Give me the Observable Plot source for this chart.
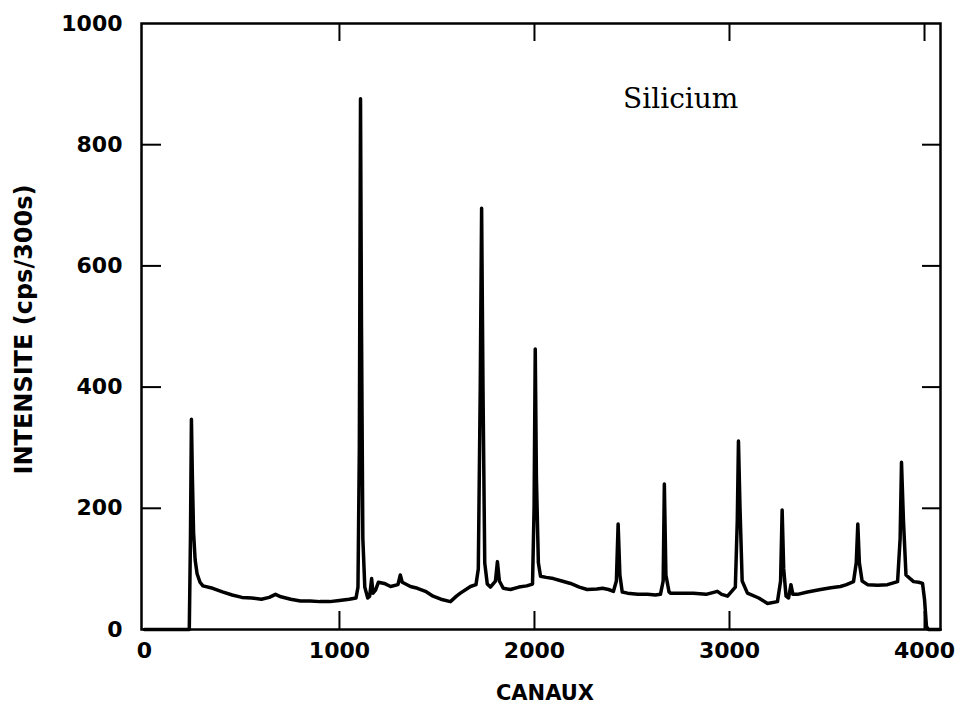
<!DOCTYPE html>
<html>
<head>
<meta charset="utf-8">
<script src="https://cdn.jsdelivr.net/npm/d3@7"></script>
<script src="https://cdn.jsdelivr.net/npm/@observablehq/plot@0.6"></script>
<style>
  html, body { margin: 0; padding: 0; background: #fff; }
  #chart svg { display: block; }
</style>
</head>
<body>
<div id="chart"></div>
<script>
// Channel (CANAUX) and intensity (cps/300s)
const channels = [
  0, 230, 236, 241, 246, 252, 260, 270, 285, 300, 350, 400, 450, 500, 550, 600, 640, 672, 700, 750,
  800, 850, 900, 950, 1000, 1050, 1085, 1095, 1102, 1108, 1113, 1120, 1130, 1145, 1155, 1165, 1172, 1185, 1200, 1230,
  1262, 1300, 1312, 1322, 1364, 1400, 1441, 1480, 1520, 1569, 1600, 1620, 1672, 1700, 1712, 1722, 1729, 1736, 1745, 1758,
  1774, 1800, 1810, 1820, 1840, 1877, 1920, 1960, 1990, 1998, 2004, 2010, 2020, 2031, 2060, 2097, 2140, 2185, 2230, 2270,
  2320, 2349, 2380, 2405, 2420, 2429, 2438, 2450, 2477, 2530, 2580, 2620, 2646, 2660, 2666, 2674, 2690, 2697, 2760, 2815,
  2880, 2938, 2960, 2990, 3030, 3040, 3046, 3054, 3065, 3092, 3150, 3195, 3246, 3262, 3270, 3278, 3290, 3303, 3315, 3325,
  3349, 3400, 3467, 3520, 3569, 3600, 3636, 3650, 3658, 3666, 3680, 3708, 3760, 3810, 3862, 3875, 3882, 3892, 3905, 3944,
  3970, 3990, 4000, 4010, 4020, 4080
];
const intensities = [
  0, 0, 150, 347, 250, 160, 115, 92, 78, 72, 68, 62, 57, 53, 52, 50, 53, 58, 54, 50,
  47, 47, 46, 46, 48, 50, 52, 70, 300, 876, 500, 150, 70, 52, 55, 84, 60, 65, 78, 76,
  71, 74, 90, 78, 71, 68, 63, 55, 50, 46, 55, 60, 71, 74, 100, 400, 695, 400, 110, 75,
  70, 80, 112, 80, 68, 66, 70, 72, 75, 200, 463, 250, 110, 88, 86, 84, 80, 76, 70, 66,
  67, 68, 66, 63, 80, 174, 90, 62, 60, 58, 58, 57, 58, 80, 240, 90, 62, 60, 60, 60,
  58, 63, 58, 55, 70, 180, 311, 200, 80, 60, 52, 43, 46, 80, 197, 100, 55, 52, 74, 58,
  58, 62, 66, 69, 71, 74, 79, 110, 174, 110, 80, 74, 73, 74, 79, 150, 276, 180, 90, 79,
  78, 76, 50, 5, 0, 0
];
const xTickValues = [0, 1000, 2000, 3000, 4000];
const yTickValues = [0, 200, 400, 600, 800, 1000];
const xInnerTicks = [1000, 2000, 3000, 4000];
const yInnerTicks = [200, 400, 600, 800];
const xTitle = "CANAUX";
const yTitle = "INTENSITE (cps/300s)";
const sampleLabel = "Silicium";
const sampleLabelPos = {x: 2750, y: 876};

const data = channels.map((c, i) => ({channel: c, intensity: intensities[i]}));

const W = 960, H = 711;
const mL = 141, mR = 20, mT = 23, mB = 82;
const innerH = H - mT - mB;
const innerW = W - mL - mR;
const sans = "DejaVu Sans, sans-serif";

const plot = Plot.plot({
  width: W,
  height: H,
  marginLeft: mL,
  marginRight: mR,
  marginTop: mT,
  marginBottom: mB,
  style: {background: "#fff", color: "#000", fontFamily: sans},
  x: {domain: [-15, 4082]},
  y: {domain: [0, 1000]},
  marks: [
    Plot.axisX(xTickValues, {tickSize: 0, tickPadding: 13, fontSize: 22, fontWeight: "bold", fontFamily: sans, label: null, tickFormat: d => String(d)}),
    Plot.axisY(yTickValues, {tickSize: 0, tickPadding: 19, fontSize: 22, fontWeight: "bold", fontFamily: sans, label: null, tickFormat: d => String(d)}),
    // inward ticks
    Plot.tickX(xInnerTicks, {x: d => d, insetTop: innerH - 18, stroke: "#000", strokeWidth: 2}),
    Plot.tickX(xInnerTicks, {x: d => d, insetBottom: innerH - 18, stroke: "#000", strokeWidth: 2}),
    Plot.tickY(yInnerTicks, {y: d => d, insetRight: innerW - 20, stroke: "#000", strokeWidth: 2}),
    Plot.tickY(yInnerTicks, {y: d => d, insetLeft: innerW - 18, stroke: "#000", strokeWidth: 2}),
    Plot.line(data, {x: "channel", y: "intensity", stroke: "#000", strokeWidth: 3.5, strokeLinejoin: "round"}),
    Plot.frame({stroke: "#000", strokeWidth: 2.5}),
    Plot.text([sampleLabel], {x: () => sampleLabelPos.x, y: () => sampleLabelPos.y, text: d => d,
      fontFamily: "DejaVu Serif, serif", fontSize: 28, fill: "#000"}),
    Plot.text([xTitle], {frameAnchor: "bottom", text: d => d, textAnchor: "middle", dx: 4, dy: 70, fontSize: 21, fontWeight: "bold", fontFamily: sans, fill: "#000"}),
    Plot.text([yTitle], {frameAnchor: "left", text: d => d, textAnchor: "middle", rotate: -90, dx: -117, dy: 3, fontSize: 24, fontWeight: "bold", fontFamily: sans, fill: "#000"})
  ]
});
document.getElementById("chart").appendChild(plot);
</script>
</body>
</html>
